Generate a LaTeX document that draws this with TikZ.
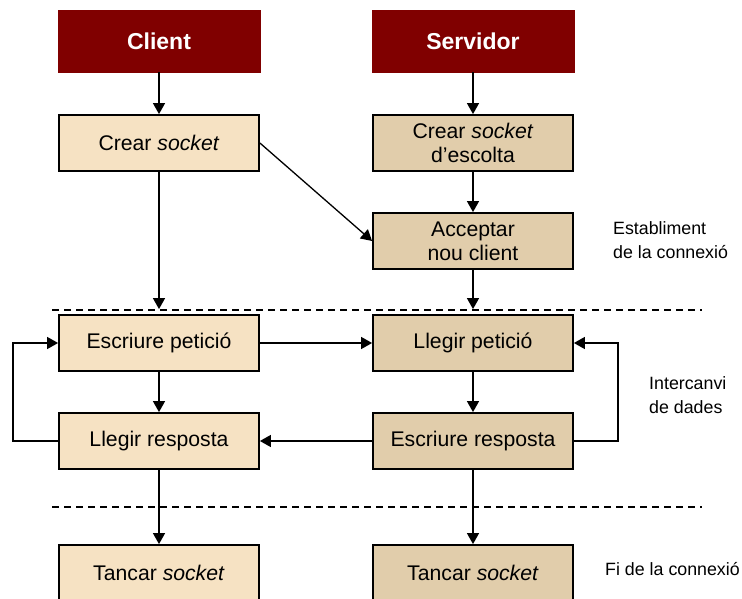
\documentclass[tikz,border=0pt]{standalone}
\usepackage{fontspec}
\setmainfont{Liberation Sans}
\usetikzlibrary{arrows.meta}
\definecolor{headred}{HTML}{800000}
\definecolor{clientfill}{HTML}{F6E2C3}
\definecolor{serverfill}{HTML}{E1CDAB}
\tikzset{
  header/.style={fill=headred, draw=headred, text=white, minimum width=202pt, minimum height=62pt,
    font=\fontsize{23}{26}\selectfont\bfseries},
  basebox/.style={draw=black, line width=1.8pt, minimum width=200pt, minimum height=56pt,
    align=center, font=\fontsize{21.2}{24}\selectfont},
  clientbox/.style={basebox, fill=clientfill},
  serverbox/.style={basebox, fill=serverfill},
  flow/.style={line width=1.3pt, -{Triangle[width=12pt,length=11pt]}},
  sep/.style={line width=1.1pt, dash pattern=on 7pt off 5pt},
  phase/.style={align=left, anchor=west, inner sep=0pt, font=\fontsize{17.8}{24}\selectfont}
}
\begin{document}
\begin{tikzpicture}[x=1pt, y=-1pt]
\useasboundingbox (0,0) rectangle (742,599);

% column headers
\node[header] (client) at (159,41) {Client};
\node[header] (server) at (473,41) {Servidor};

% connection set-up
\node[clientbox] (csock) at (159,143) {Crear \textit{socket}};
\node[serverbox] (ssock) at (473,143) {Crear \textit{socket}\\d’escolta};
\node[serverbox] (accept) at (473,241) {Acceptar\\nou client};

% data exchange
\node[clientbox] (wreq) at (159,343) {Escriure petició};
\node[serverbox] (rreq) at (473,343) {Llegir petició};
\node[clientbox] (rresp) at (159,441) {Llegir resposta};
\node[serverbox] (wresp) at (473,441) {Escriure resposta};

% closing
\node[clientbox] (cclose) at (159,573) {Tancar \textit{socket}};
\node[serverbox] (sclose) at (473,573) {Tancar \textit{socket}};

% phase separators
\coordinate (sepAl) at (52,310);
\coordinate (sepAr) at (702,310);
\coordinate (sepBl) at (52,507);
\coordinate (sepBr) at (702,507);
\draw[sep] (sepAl) -- (sepAr);
\draw[sep] (sepBl) -- (sepBr);

% phase labels
\node[phase] (lbl1) at (613,240) {Establiment\\de la connexió};
\node[phase] (lbl2) at (649,395) {Intercanvi\\de dades};
\node[phase] (lbl3) at (605,569) {Fi de la connexió};

% connectors
\draw[flow] (client) -- (csock);
\draw[flow] (server) -- (ssock);
\draw[flow] (ssock) -- (accept);
\draw[flow] (csock.east) -- (accept.west);
\draw[flow, shorten >=5pt] (csock) -- (wreq);
\draw[flow, shorten >=5pt] (accept) -- (rreq);
\draw[flow] (wreq) -- (rreq);
\draw[flow] (wreq) -- (rresp);
\draw[flow] (rreq) -- (wresp);
\draw[flow] (wresp) -- (rresp);
\draw[flow] (rresp) -- (cclose);
\draw[flow] (wresp) -- (sclose);

% request/response loops
\draw[flow] (rresp.west) -- ++(-45,0) |- (wreq.west);
\draw[flow] (wresp.east) -- ++(44,0) |- (rreq.east);
\end{tikzpicture}
\end{document}
